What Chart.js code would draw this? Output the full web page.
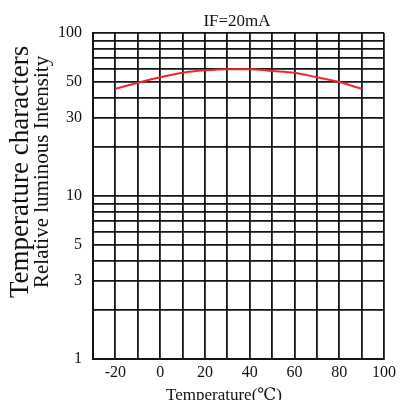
<!DOCTYPE html>
<html>
<head>
<meta charset="utf-8">
<script src="https://cdn.jsdelivr.net/npm/chart.js@4/dist/chart.umd.min.js"></script>
<style>
html,body{margin:0;padding:0;background:#fff;}
#wrap{width:400px;height:400px;}
</style>
</head>
<body>
<div id="wrap"><canvas id="c" width="400" height="400"></canvas></div>
<script>
// ---- data ----
const temperatures = [-20, -10, 0, 10, 20, 30, 40, 50, 60, 70, 80, 90];
const intensity = [45.5, 49.5, 53.5, 57, 59, 60, 60, 58.5, 57, 53.5, 50, 45.5];
const xTickLabels = [-20, 0, 20, 40, 60, 80, 100];
const yTickLabels = [1, 3, 5, 10, 30, 50, 100];
const yGridValues = [1, 2, 3, 4, 5, 6, 7, 8, 9, 10, 20, 30, 40, 50, 60, 70, 80, 90, 100];
const chartTitle = 'IF=20mA';
const yTitleMain = 'Temperature characters';
const yTitleSub = 'Relative luminous Intensity';
const xTitle = 'Temperature(\u2103)';

const SERIF = "'Liberation Serif', 'DejaVu Serif', serif";

const textPlugin = {
  id: 'texts',
  afterDraw(chart) {
    const ctx = chart.ctx;
    ctx.save();
    ctx.fillStyle = '#111';
    // top label
    ctx.font = '17px ' + SERIF;
    ctx.textAlign = 'center';
    ctx.textBaseline = 'alphabetic';
    ctx.fillText(chartTitle, 237, 26);
    // x title (partly cut off at the bottom edge, as in the reference)
    ctx.font = '17px ' + SERIF;
    ctx.fillText(xTitle, 224, 400);
    // rotated y titles
    ctx.save();
    ctx.translate(28, 298);
    ctx.rotate(-Math.PI / 2);
    ctx.textAlign = 'left';
    ctx.font = '27px ' + SERIF;
    ctx.fillText(yTitleMain, 0, 0);
    ctx.restore();
    ctx.save();
    ctx.translate(48, 288);
    ctx.rotate(-Math.PI / 2);
    ctx.textAlign = 'left';
    ctx.font = '21px ' + SERIF;
    ctx.fillText(yTitleSub, 0, 0);
    ctx.restore();
    ctx.restore();
  }
};

const bgPlugin = {
  id: 'bg',
  beforeDraw(chart) {
    const ctx = chart.ctx;
    ctx.save();
    ctx.fillStyle = '#fff';
    ctx.fillRect(0, 0, chart.width, chart.height);
    ctx.restore();
  }
};

new Chart(document.getElementById('c'), {
  type: 'line',
  data: {
    datasets: [{
      data: temperatures.map((t, i) => ({ x: t, y: intensity[i] })),
      borderColor: '#f2242e',
      borderWidth: 2,
      pointRadius: 0,
      cubicInterpolationMode: 'monotone',
      fill: false
    }]
  },
  options: {
    responsive: false,
    animation: false,
    layout: { padding: { left: 0, top: 33, right: 13, bottom: 0 } },
    plugins: { legend: { display: false }, tooltip: { enabled: false }, title: { display: false } },
    scales: {
      x: {
        type: 'linear',
        min: -30,
        max: 100,
        afterFit(scale) { scale.height = 41; },
        afterBuildTicks(scale) {
          const t = [];
          for (let v = -30; v <= 100; v += 10) t.push({ value: v });
          scale.ticks = t;
        },
        ticks: {
          autoSkip: false,
          maxRotation: 0,
          padding: 4,
          color: '#111',
          font: { family: SERIF, size: 16 },
          callback: (v) => xTickLabels.includes(v) ? String(v) : ''
        },
        grid: { color: '#151515', lineWidth: 1.8, drawTicks: false },
        border: { color: '#151515', width: 2 }
      },
      y: {
        type: 'logarithmic',
        min: 1,
        max: 100,
        afterFit(scale) { scale.width = 93; },
        afterBuildTicks(scale) {
          scale.ticks = yGridValues.map(v => ({ value: v }));
        },
        ticks: {
          autoSkip: false,
          padding: 11,
          color: '#111',
          font: { family: SERIF, size: 16 },
          callback: (v) => yTickLabels.includes(v) ? String(v) : ''
        },
        grid: { color: '#151515', lineWidth: 1.8, drawTicks: false },
        border: { color: '#151515', width: 2 }
      }
    }
  },
  plugins: [bgPlugin, textPlugin]
});
</script>
</body>
</html>
